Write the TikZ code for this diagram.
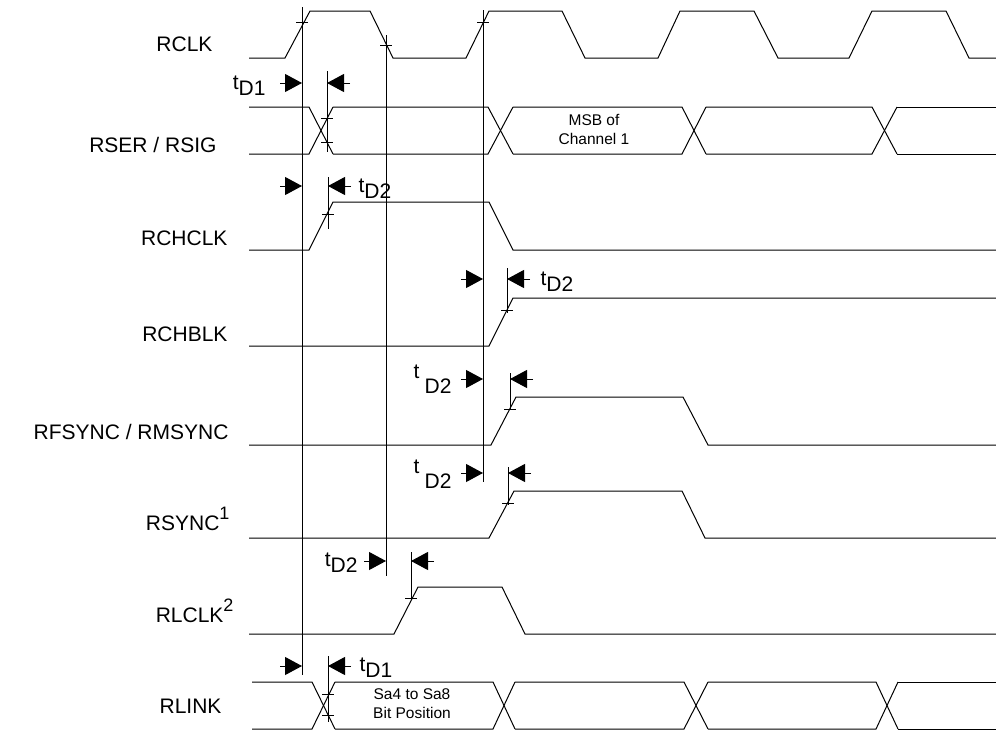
\documentclass[tikz,border=0pt]{standalone}
\usepackage{fontspec}
\setmainfont{Liberation Sans}
\usetikzlibrary{arrows.meta}
\newcommand{\tdl}[1]{t\raisebox{-0.3em}{#1}}
\newcommand{\tdh}[1]{\raisebox{0.7em}{t}\hspace{0.25em}#1}
\newcommand{\sig}[2]{#1\raisebox{0.5em}{\fontsize{9}{9}\selectfont #2}}

\begin{document}
\begin{tikzpicture}[x=0.5pt,y=-0.5pt,line width=0.5pt,line join=miter,
    lbl/.style={font=\fontsize{10.5}{13}\selectfont,anchor=base east,inner sep=0pt},
    dly/.style={font=\fontsize{10.5}{13}\selectfont,inner sep=0pt},
    busnote/.style={font=\fontsize{7.75}{9.5}\selectfont,align=center,inner sep=0pt},
    tip/.style={-{Triangle[length=8.5pt,width=9pt]}}]
    \useasboundingbox (0,0) rectangle (996,734);

    \node[lbl] (rclk)   at (213,51)  {RCLK};
    \node[lbl] (rser)   at (217,152) {RSER / RSIG};
    \node[lbl] (rchclk) at (228,245) {RCHCLK};
    \node[lbl] (rchblk) at (228,341) {RCHBLK};
    \node[lbl] (rfsync) at (229,439) {RFSYNC / RMSYNC};
    \node[lbl] (rsync)  at (230,530) {\sig{RSYNC}{1}};
    \node[lbl] (rlclk)  at (234,622) {\sig{RLCLK}{2}};
    \node[lbl] (rlink)  at (222,713) {RLINK};

    \draw (249,58) -- (285,58) -- (310,11) -- (370,11) -- (393,58) -- (466,58) -- (489,11)
        -- (562,11) -- (585,58) -- (658,58) -- (680,11) -- (754,11) -- (778,58) -- (849,58)
        -- (872,11) -- (946,11) -- (969,58) -- (996,58);
    \draw (249,250) -- (309,250) -- (333,202) -- (489,202) -- (513,250) -- (996,250);
    \draw (249,346) -- (489,346) -- (513,298) -- (996,298);
    \draw (249,445) -- (491,445) -- (516,397) -- (683,397) -- (708,445) -- (996,445);
    \draw (249,538) -- (489,538) -- (514,491) -- (682,491) -- (705,538) -- (996,538);
    \draw (249,634) -- (394,634) -- (418,587) -- (502,587) -- (525,634) -- (996,634);

    \foreach \a/\b [remember=\b as \p (initially 249)] in {309/333,488/513,682/706,872/897} {
        \draw (\p,107) -- (\a,107) -- (\b,154);
        \draw (\p,154) -- (\a,154) -- (\b,107);
    }
    \draw (897,107) -- (996,107) (897,154) -- (996,154);
    \foreach \a/\b [remember=\b as \p (initially 252)] in {312/335,493/515,684/708,876/898} {
        \draw (\p,682) -- (\a,682) -- (\b,729);
        \draw (\p,729) -- (\a,729) -- (\b,682);
    }
    \draw (898,682) -- (996,682) (898,729) -- (996,729);
    \node[busnote] (msb) at (594,129) {MSB of\\Channel 1};
    \node[busnote] (sa)  at (412,704) {Sa4 to Sa8\\Bit Position};

    \draw (302,7) -- (302,675);
    \draw (386,35) -- (386,576);
    \draw (483,10) -- (483,482);
    \foreach \x/\t/\u in {327/71/152,328/177/229,507/268/313,510/373/410,508/467/505,411/552/600,328/656/722}
        \draw (\x,\t) -- (\x,\u);
    \foreach \x/\y in {302/22,386/45,483/22,327/118,327/142,328/214,507/310,510/409,508/503,411/598,328/694,328/715}
        \draw (\x-6,\y) -- (\x+6,\y);

    \foreach \y/\a/\b in {83/302/327,186/302/328,279/483/507,379/483/510,473/483/508,561/386/411,666/302/328} {
        \draw[tip] (\a-22,\y) -- (\a,\y);
        \draw[tip] (\b+23,\y) -- (\b,\y);
    }
    \node[dly,anchor=base east] (d1a) at (266,89)  {\tdl{D1}};
    \node[dly,anchor=base west] (d2a) at (358,192) {\tdl{D2}};
    \node[dly,anchor=base west] (d2b) at (540,285) {\tdl{D2}};
    \node[dly,anchor=base east] (d2c) at (452,393) {\tdh{D2}};
    \node[dly,anchor=base east] (d2d) at (452,488) {\tdh{D2}};
    \node[dly,anchor=base east] (d2e) at (358,566) {\tdl{D2}};
    \node[dly,anchor=base west] (d1b) at (359,671) {\tdl{D1}};
\end{tikzpicture}
\end{document}
